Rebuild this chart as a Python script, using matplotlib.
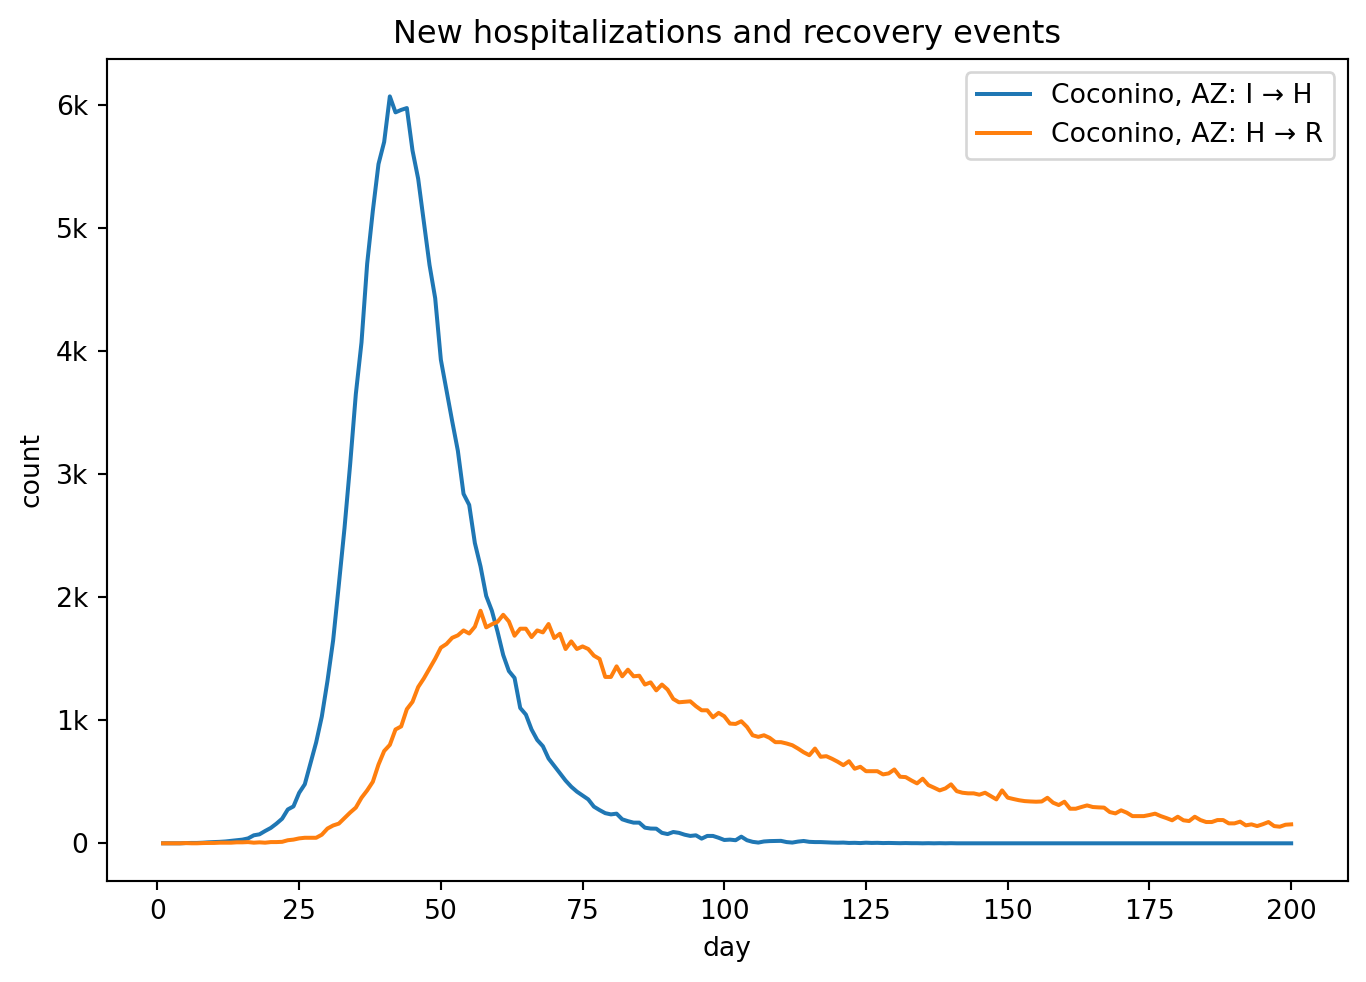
import matplotlib
matplotlib.use("Agg")
import matplotlib.pyplot as plt
from matplotlib.ticker import FuncFormatter

ih_values = [
    0, 0, 0, 0, 2, 3, 3, 5, 8, 10,
    12, 15, 20, 25, 30, 40, 65, 73, 100, 125,
    160, 200, 275, 300, 410, 480, 650, 820, 1030, 1320,
    1650, 2100, 2560, 3080, 3650, 4070, 4710, 5140, 5520, 5700,
    6070, 5940, 5960, 5975, 5630, 5400, 5050, 4700, 4430, 3930,
    3680, 3430, 3190, 2840, 2750, 2440, 2250, 2010, 1890, 1720,
    1530, 1400, 1344, 1100, 1046, 925, 840, 789, 689, 630,
    570, 510, 460, 420, 389, 357, 298, 270, 245, 235,
    241, 195, 180, 168, 168, 127, 120, 119, 85, 75,
    92, 85, 70, 60, 65, 38, 60, 60, 45, 27,
    30, 25, 54, 25, 12, 6, 15, 18, 19, 20,
    10, 6, 14, 19, 12, 10, 10, 8, 6, 5,
    6, 3, 4, 2, 5, 3, 4, 2, 3, 2,
    1, 2, 1, 1, 0, 1, 0, 1, 0, 1,
    0, 0, 0, 0, 0, 0, 0, 0, 0, 0,
    0, 0, 0, 0, 0, 0, 0, 0, 0, 0,
    0, 0, 0, 0, 0, 0, 0, 0, 0, 0,
    0, 0, 0, 0, 0, 0, 0, 0, 0, 0,
    0, 0, 0, 0, 0, 0, 0, 0, 0, 0,
    0, 0, 0, 0, 0, 0, 0, 0, 0, 0,
]

hr_values = [
    0, 0, 0, 0, 2, 0, 0, 2, 3, 3,
    5, 5, 5, 8, 8, 10, 5, 8, 5, 10,
    10, 12, 25, 30, 40, 45, 45, 45, 70, 120,
    145, 160, 205, 250, 290, 370, 430, 500, 640, 750,
    800, 925, 950, 1090, 1150, 1270, 1340, 1420, 1500, 1590,
    1620, 1670, 1690, 1730, 1705, 1760, 1890, 1755, 1780, 1800,
    1857, 1803, 1687, 1744, 1744, 1676, 1730, 1714, 1782, 1668,
    1703, 1579, 1641, 1579, 1600, 1579, 1525, 1498, 1352, 1352,
    1438, 1357, 1411, 1357, 1362, 1290, 1308, 1243, 1290, 1249,
    1173, 1146, 1150, 1154, 1114, 1081, 1081, 1024, 1060, 1032,
    973, 970, 992, 946, 878, 865, 878, 857, 822, 822,
    811, 797, 770, 740, 716, 770, 703, 708, 687, 663,
    635, 667, 606, 622, 586, 586, 586, 560, 568, 600,
    541, 538, 511, 487, 525, 473, 452, 430, 446, 479,
    424, 411, 406, 406, 395, 411, 384, 357, 430, 371,
    360, 350, 343, 340, 338, 340, 370, 330, 311, 338,
    281, 281, 295, 308, 295, 292, 290, 254, 243, 268,
    249, 221, 221, 221, 230, 241, 221, 205, 187, 216,
    187, 181, 216, 189, 173, 173, 189, 189, 162, 162,
    176, 146, 154, 140, 155, 173, 140, 135, 151, 154,
]

days = list(range(1, len(ih_values) + 1))
series_labels = ["Coconino, AZ: I \u2192 H", "Coconino, AZ: H \u2192 R"]

DPI = 192
fig = plt.figure(figsize=(1366 / DPI, 982 / DPI), dpi=DPI)
ax = fig.add_axes([0.0781, 0.1032, 0.9084, 0.8367])
ax.plot(days, ih_values, color="#1f77b4", label=series_labels[0])
ax.plot(days, hr_values, color="#ff7f0e", label=series_labels[1])

def kfmt(v, pos):
    if v == 0:
        return "0"
    return f"{v/1000:g}k"

ax.yaxis.set_major_formatter(FuncFormatter(kfmt))
ax.set_title("New hospitalizations and recovery events")
ax.set_xlabel("day")
ax.set_ylabel("count")
ax.legend(loc="upper right")
fig.savefig("out.png", dpi=DPI)
